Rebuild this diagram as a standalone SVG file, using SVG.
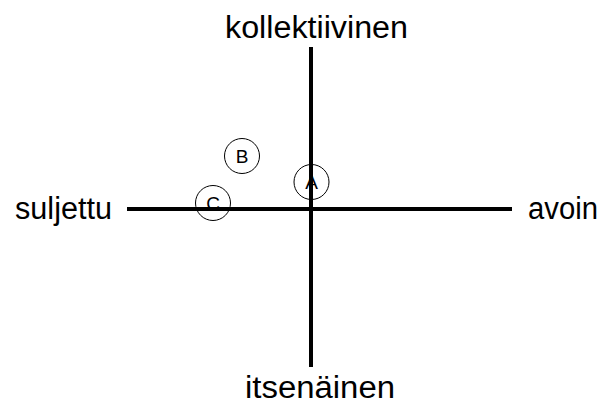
<svg xmlns="http://www.w3.org/2000/svg" width="605" height="405" viewBox="0 0 605 405">
<style>
.axis{stroke:#000;stroke-width:4;fill:none}
.c{fill:none;stroke:#000;stroke-width:1}
.lbl{font-family:"Liberation Sans",Arial,sans-serif;font-size:31px;fill:#000}
.pt{font-family:"Liberation Sans",Arial,sans-serif;font-size:19px;fill:#000;text-anchor:middle}
</style>
<rect width="605" height="405" fill="#fff"/>
<g id="connectors">
<line class="axis" x1="311" y1="47" x2="311" y2="367"/>
<line class="axis" x1="127" y1="209" x2="512" y2="209"/>
</g>
<g id="kollektiivinen"><text class="lbl" x="225" y="38" textLength="183" lengthAdjust="spacingAndGlyphs">kollektiivinen</text></g>
<g id="suljettu"><text class="lbl" x="15" y="219" textLength="97" lengthAdjust="spacingAndGlyphs">suljettu</text></g>
<g id="avoin"><text class="lbl" x="528" y="219" textLength="70" lengthAdjust="spacingAndGlyphs">avoin</text></g>
<g id="itsenainen"><text class="lbl" x="245" y="398" textLength="150" lengthAdjust="spacingAndGlyphs">itsenäinen</text></g>
<g id="A"><circle class="c" cx="311.5" cy="182" r="17.5"/><text class="pt" x="311.5" y="189">A</text></g>
<g id="B"><circle class="c" cx="242" cy="156" r="17.5"/><text class="pt" x="242" y="163">B</text></g>
<g id="C"><circle class="c" cx="213" cy="203" r="17.5"/><text class="pt" x="213" y="210">C</text></g>
</svg>
